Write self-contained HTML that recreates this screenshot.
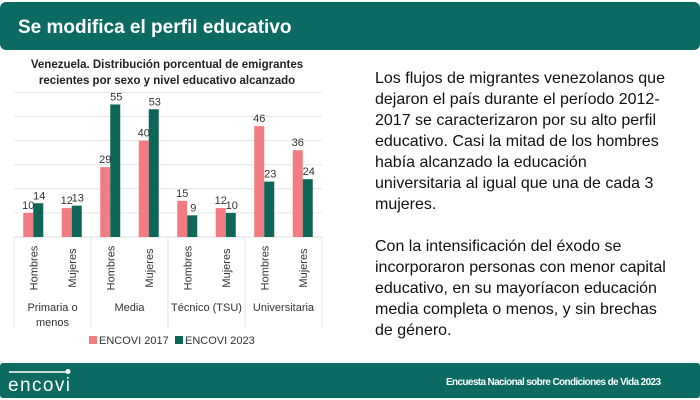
<!DOCTYPE html>
<html><head><meta charset="utf-8"><style>
html,body{margin:0;padding:0;background:#fff;}
svg{display:block;font-family:"Liberation Sans",sans-serif;}
</style></head><body>
<svg id="s" width="700" height="400" viewBox="0 0 700 400">
<rect x="0" y="2" width="700" height="48" rx="6" fill="#0b6b63"/>
<text x="18" y="33" font-size="19" font-weight="bold" fill="#fff">Se modifica el perfil educativo</text>
<text x="167" y="68" font-size="11.5" font-weight="bold" text-anchor="middle" fill="#222">Venezuela. Distribución porcentual de emigrantes</text>
<text x="167" y="84" font-size="11.5" font-weight="bold" text-anchor="middle" fill="#222">recientes por sexo y nivel educativo alcanzado</text>
<g id="chart"></g>
<g font-size="16" fill="#111">
<text x="375" y="83">Los flujos de migrantes venezolanos que</text>
<text x="375" y="104">dejaron el país durante el período 2012-</text>
<text x="375" y="125">2017 se caracterizaron por su alto perfil</text>
<text x="375" y="146">educativo.  Casi la mitad de los hombres</text>
<text x="375" y="167">había alcanzado la educación</text>
<text x="375" y="188">universitaria al igual que una de cada 3</text>
<text x="375" y="209">mujeres.</text>
<text x="375" y="251">Con la intensificación del éxodo se</text>
<text x="375" y="272">incorporaron personas con menor capital</text>
<text x="375" y="293">educativo, en su mayoríacon educación</text>
<text x="375" y="314">media completa o menos, y sin brechas</text>
<text x="375" y="335">de género.</text>
</g>
<rect x="0" y="363" width="700" height="35" rx="3" fill="#0b6b63"/>
<line x1="9" y1="372" x2="67" y2="372" stroke="#fff" stroke-width="1.5"/>
<circle cx="68" cy="371.5" r="2.5" fill="#fff"/>
<text x="8" y="391" font-size="19" fill="#fff" textLength="62">encovi</text>
<text x="446" y="385" font-size="10" font-weight="bold" fill="#fff" textLength="215">Encuesta Nacional sobre Condiciones de Vida 2023</text>
</svg>
<script>
const categories=["Hombres","Mujeres","Hombres","Mujeres","Hombres","Mujeres","Hombres","Mujeres"];
const groups=["Primaria o|menos","Media","Técnico (TSU)","Universitaria"];
const s2017=[10,12,29,40,15,12,46,36];
const s2023=[14,13,55,53,9,10,23,24];
const gridTicks=[0,10,20,30,40,50,60];
const NS="http://www.w3.org/2000/svg";
const g=document.getElementById('chart');
const x0=14,x1=322,base=237,ppu=2.41;
const cw=(x1-x0)/categories.length;
const y=v=>base-v*ppu;
const xc=i=>x0+cw*(i+0.5);
function mk(t,a){const e=document.createElementNS(NS,t);for(const k in a)e.setAttribute(k,a[k]);g.appendChild(e);return e;}
gridTicks.forEach(t=>{if(t===0)return;const l=mk('line',{x1:x0,x2:x1,y1:y(t),y2:y(t),stroke:'#e6e6e6','stroke-width':1});

});
const bl=mk('line',{x1:x0,x2:x1,y1:base,y2:base,stroke:'#ddd'});


for(let k=0;k<=4;k++){const xx=x0+k*cw*2;const l=mk('line',{x1:xx,x2:xx,y1:base,y2:328,stroke:'#e3e3e3'});

}
const bw=10;
categories.forEach((c,i)=>{
 const cx=xc(i);
 const r1=mk('rect',{x:cx-bw,y:y(s2017[i]),width:bw,height:s2017[i]*ppu,fill:'#f27c82'});
 
 
 const r2=mk('rect',{x:cx,y:y(s2023[i]),width:bw,height:s2023[i]*ppu,fill:'#0d6657'});
 
 
 const t1=mk('text',{x:cx-bw/2,y:y(s2017[i])-4,'font-size':11,'text-anchor':'middle',fill:'#333'});t1.textContent=s2017[i];
 
 
 const t2=mk('text',{x:cx+bw/2+1,y:y(s2023[i])-4,'font-size':11,'text-anchor':'middle',fill:'#333'});t2.textContent=s2023[i];
 
 
 const ct=mk('text',{x:0,y:0,'font-size':11,'text-anchor':'middle',fill:'#333',transform:`translate(${cx+4},268) rotate(-90)`});ct.textContent=c;
 
 
});
groups.forEach((gn,k)=>{
 const cx=x0+cw*(2*k+1);
 gn.split('|').forEach((ln,j)=>{const t=mk('text',{x:cx,y:311+j*15,'font-size':11,'text-anchor':'middle',fill:'#333'});t.textContent=ln;
 
 });
});
[[89,'#f27c82','ENCOVI 2017'],[175,'#0d6657','ENCOVI 2023']].forEach(([lx,col,txt])=>{
 const r=mk('rect',{x:lx,y:336,width:8,height:8,fill:col});
 
 
 const t=mk('text',{x:lx+10,y:344,'font-size':11,fill:'#333'});t.textContent=txt;
 
 
});
</script>
</body></html>
